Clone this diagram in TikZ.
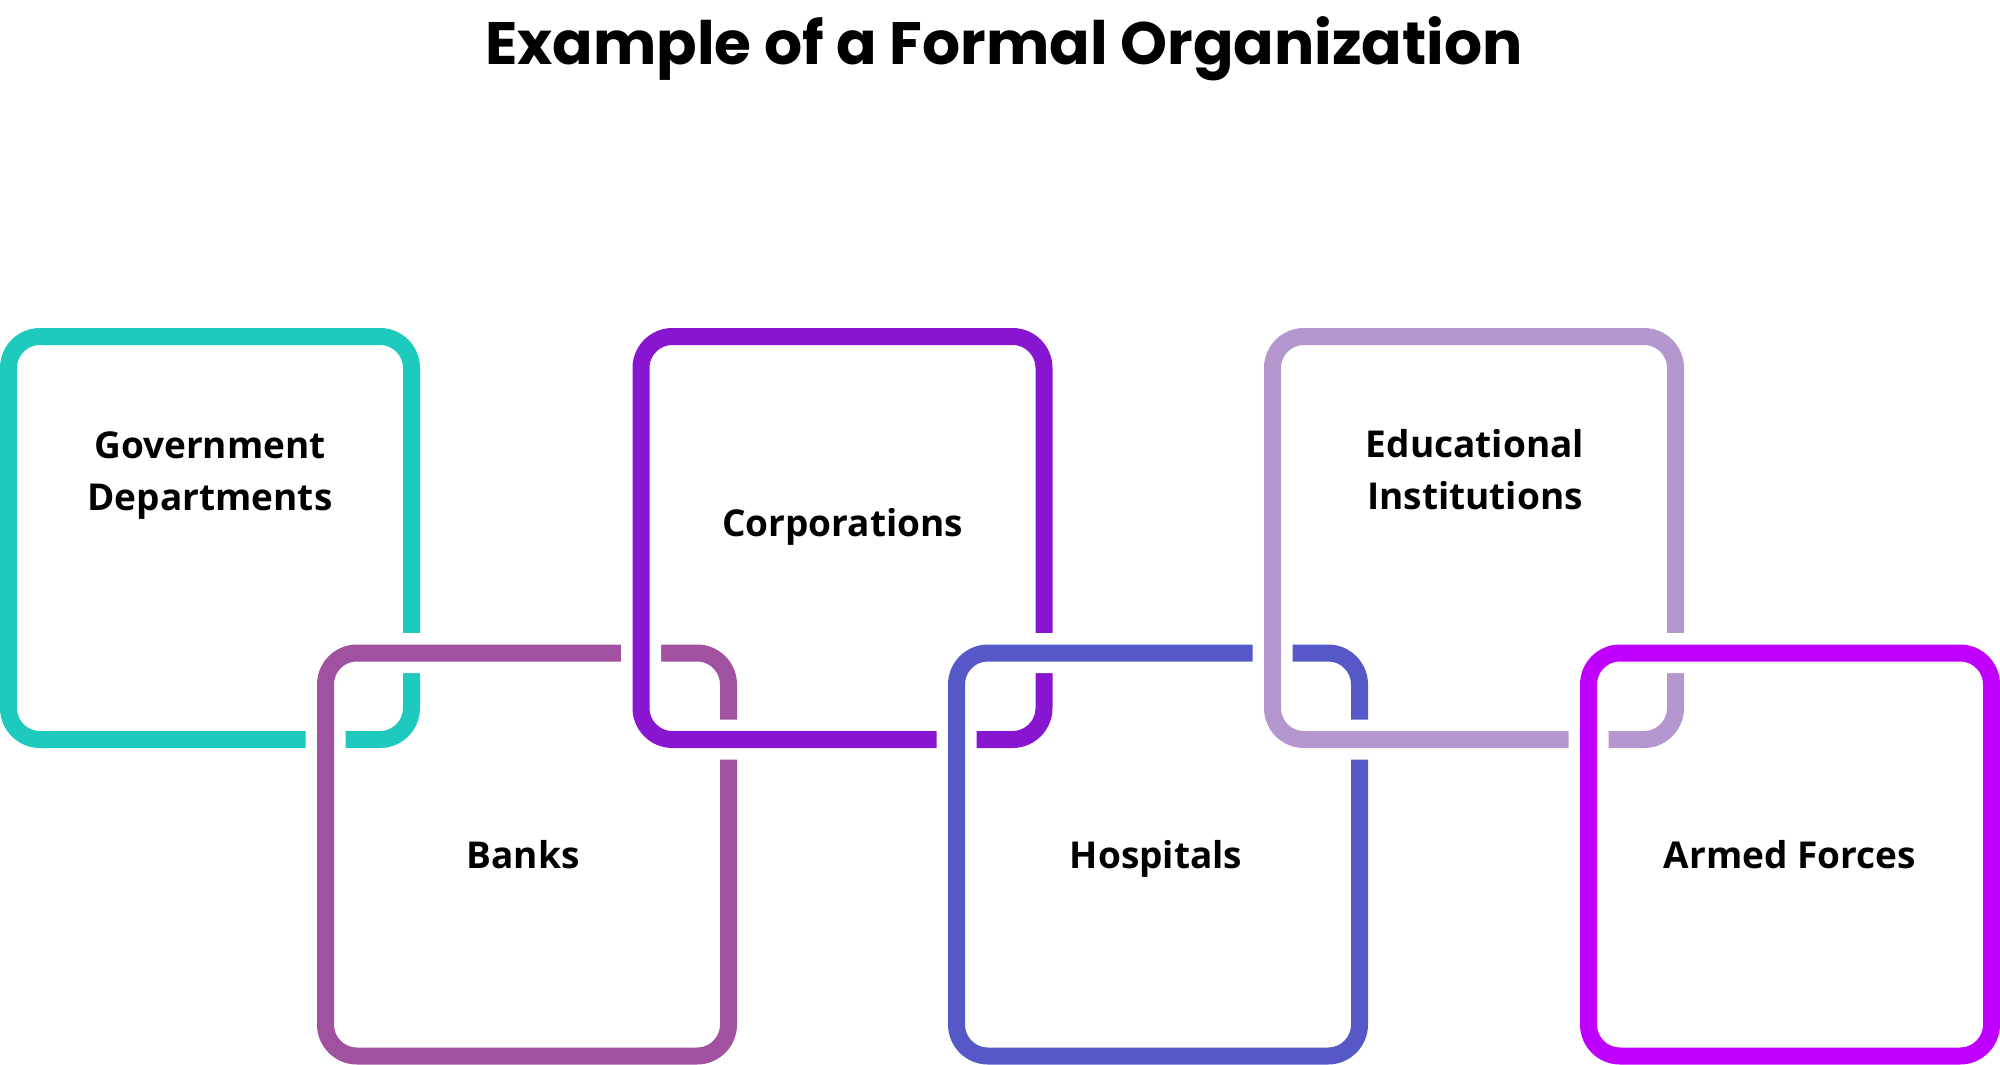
\documentclass[tikz,border=0pt]{standalone}
\usepackage{fontspec}
\setmainfont{Open Sans}
\newfontfamily\titlefont{Poppins}
\usetikzlibrary{calc}
\definecolor{cA}{HTML}{1EC9BE}
\definecolor{cB}{HTML}{A052A0}
\definecolor{cC}{HTML}{8816D0}
\definecolor{cD}{HTML}{5658C8}
\definecolor{cE}{HTML}{B497CE}
\definecolor{cF}{HTML}{C000FF}
\begin{document}
\begin{tikzpicture}[x=1pt,y=-1pt,
  box/.style={draw=white, double=#1, line width=11.5pt, double distance=17pt,
    rounded corners=31.5pt, minimum width=403pt, minimum height=403pt,
    inner sep=0pt, outer sep=0pt},
  lbl/.style={font=\fontsize{37}{52}\selectfont\bfseries, align=center,
    text=black, anchor=base, inner sep=0pt},
  titlestyle/.style={font=\titlefont\fontsize{59.8}{70}\selectfont\bfseries,
    text=black, anchor=base, inner sep=0pt}]
\useasboundingbox (0,0) rectangle (2000,1065);
\node[titlestyle] (title) at (1004,64) {Example of a Formal Organization};
\node[box=cA] (b1) at (210,538) {};
\node[box=cB] (b2) at (527,854.5) {};
\node[box=cC] (b3) at (842.5,538) {};
\node[box=cD] (b4) at (1158,854.5) {};
\node[box=cE] (b5) at (1474,538) {};
\node[box=cF] (b6) at (1790,854.5) {};
\node[lbl] (t1) at ($(b1.center)+(0,-28)$) {Government\\Departments};
\node[lbl] (t2) at ($(b2.center)+(-4,14)$) {Banks};
\node[lbl] (t3) at ($(b3.center)+(0,-2)$) {Corporations};
\node[lbl] (t4) at ($(b4.center)+(-2,13.5)$) {Hospitals};
\node[lbl] (t5) at ($(b5.center)+(1,-29)$) {Educational\\Institutions};
\node[lbl] (t6) at ($(b6.center)+(0,13.5)$) {Armed Forces};
\end{tikzpicture}
\end{document}
